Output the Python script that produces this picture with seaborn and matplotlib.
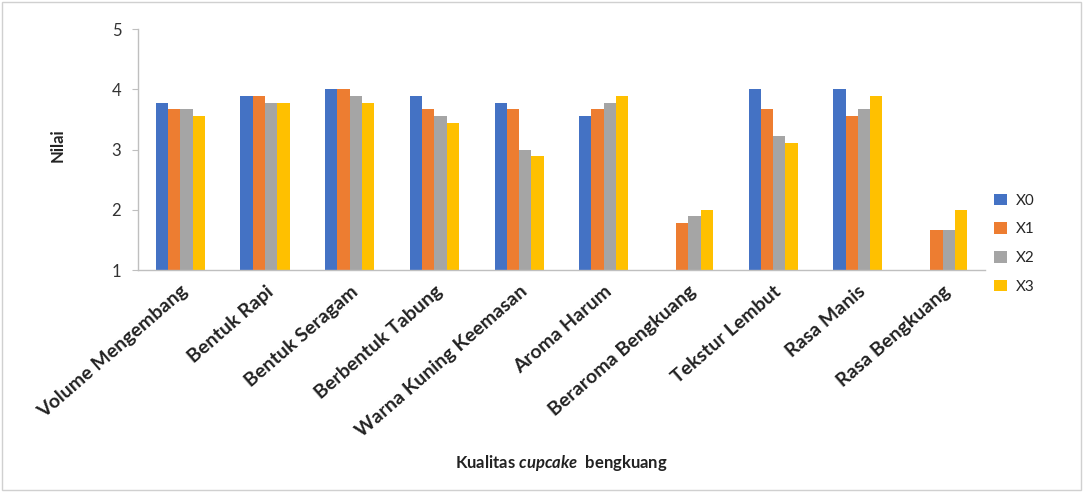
import numpy as np
import pandas as pd
import seaborn as sns
import matplotlib
matplotlib.use("Agg")
import matplotlib.pyplot as plt

categories = [
    "Volume Mengembang", "Bentuk Rapi", "Bentuk Seragam", "Berbentuk Tabung",
    "Warna Kuning Keemasan", "Aroma Harum", "Beraroma Bengkuang",
    "Tekstur Lembut", "Rasa Manis", "Rasa Bengkuang",
]
series_names = ["X0", "X1", "X2", "X3"]
x0 = [3.78, 3.89, 4.00, 3.89, 3.78, 3.56, np.nan, 4.00, 4.00, np.nan]
x1 = [3.67, 3.89, 4.00, 3.67, 3.67, 3.67, 1.78, 3.67, 3.56, 1.67]
x2 = [3.67, 3.78, 3.89, 3.56, 3.00, 3.78, 1.89, 3.22, 3.67, 1.67]
x3 = [3.56, 3.78, 3.78, 3.44, 2.89, 3.89, 2.00, 3.11, 3.89, 2.00]
y_ticks = [1, 2, 3, 4, 5]
x_title = r"Kualitas $\mathit{cupcake}$  bengkuang"
y_title = "Nilai"

colors = ["#4472C4", "#ED7D31", "#A5A5A5", "#FFC000"]

rows = []
for name, vals in zip(series_names, [x0, x1, x2, x3]):
    for cat, v in zip(categories, vals):
        rows.append({"Kategori": cat, "Seri": name, "Nilai": v})
df = pd.DataFrame(rows)

sns.set_theme(style="white")
plt.rcParams["font.family"] = ["Lato", "DejaVu Sans"]
plt.rcParams["mathtext.fontset"] = "custom"
plt.rcParams["mathtext.it"] = "Lato:italic:bold"
plt.rcParams["mathtext.rm"] = "Lato:bold"

fig = plt.figure(figsize=(10.83, 4.92), dpi=100)
ax = fig.add_axes([0.1274, 0.451, 0.782, 0.49])

sns.barplot(
    data=df, x="Kategori", y="Nilai", hue="Seri", order=categories,
    hue_order=series_names, palette=colors, width=0.58, gap=0,
    saturation=1, errorbar=None, ax=ax, linewidth=0,
)

ax.set_ylim(1, 5)
ax.set_yticks(y_ticks)
ax.set_yticklabels([str(t) for t in y_ticks], fontsize=12, color="#333333")
ax.set_xlim(-0.5, len(categories) - 0.5)
ax.set_xticks(range(len(categories)))
ax.set_xticklabels(categories, rotation=41, ha="right", rotation_mode="anchor",
                   fontsize=14, fontweight="bold", color="#222222")
ax.tick_params(axis="x", length=0, pad=9)
ax.tick_params(axis="y", length=4, width=0.8, color="#BFBFBF", left=True, pad=8)

for side in ["top", "right"]:
    ax.spines[side].set_visible(False)
for side in ["left", "bottom"]:
    ax.spines[side].set_color("#BFBFBF")
    ax.spines[side].set_linewidth(1.0)

ax.set_xlabel(x_title, fontsize=12, fontweight="bold", color="#222222", labelpad=0)
ax.xaxis.set_label_coords(0.5, -0.76)
ax.set_ylabel(y_title, fontsize=12, fontweight="bold", color="#222222")
ax.yaxis.set_label_coords(-0.085, 0.52)

leg = ax.legend(
    loc="center left", bbox_to_anchor=(0.995, 0.11), frameon=False,
    fontsize=11, handlelength=0.8, handleheight=0.8, labelspacing=0.95,
    handletextpad=0.6, title=None,
)

# thin frame around the whole figure
fig.patches.append(plt.Rectangle((0.002, 0.004), 0.996, 0.992, transform=fig.transFigure,
                                 fill=False, edgecolor="#D0D0D0", linewidth=1.0))

fig.savefig("out.png", dpi=100)
